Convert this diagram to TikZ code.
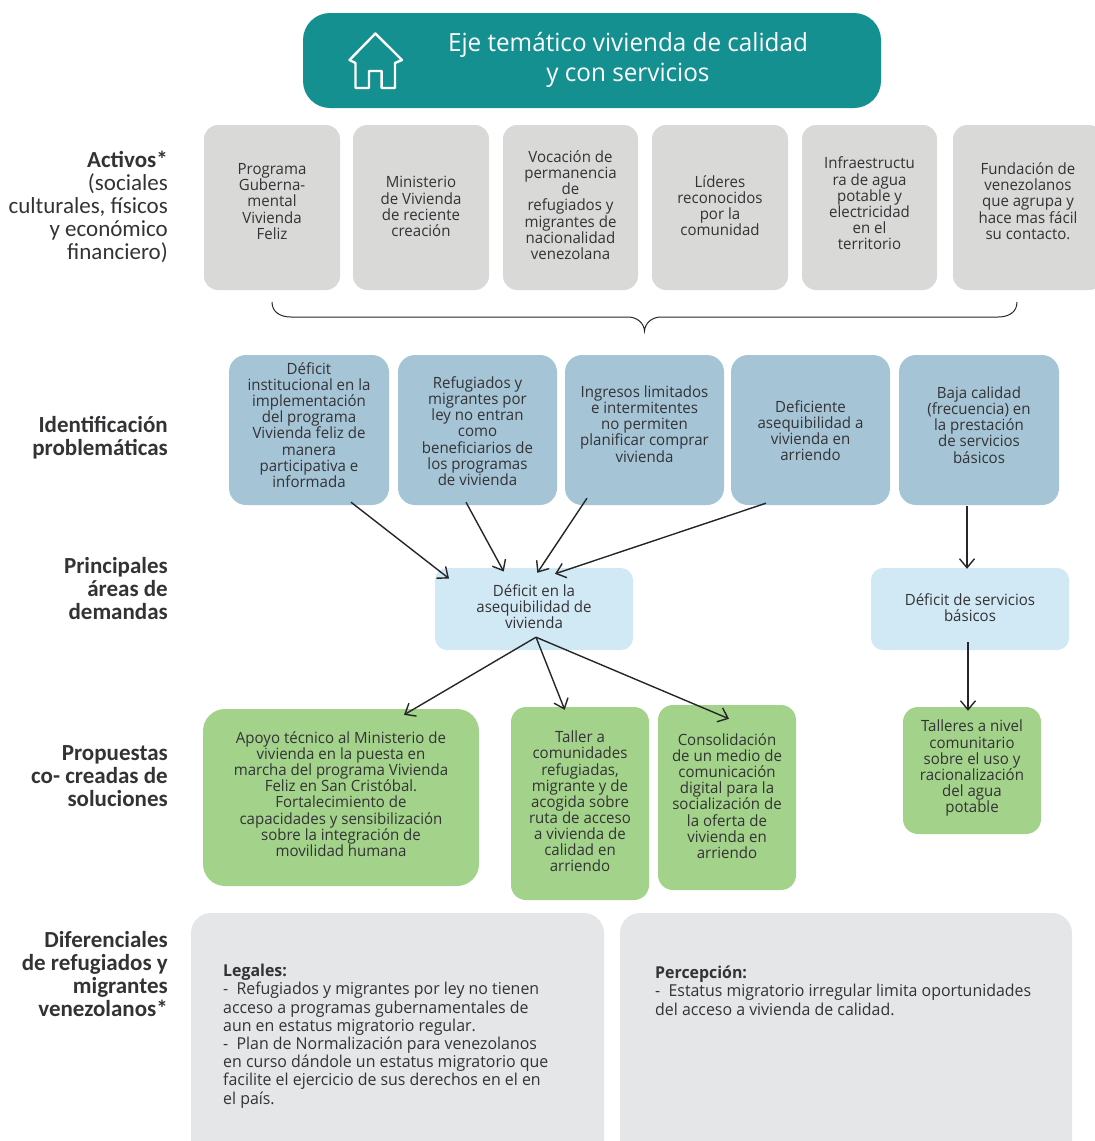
\documentclass[tikz,border=0pt]{standalone}
\usepackage{fontspec}
\setmainfont{Open Sans}
\newfontfamily\bodyf[FakeStretch=0.97]{Open Sans}
\newfontfamily\sidef{Carlito}
\usetikzlibrary{arrows.meta,calc}
\definecolor{teal}{HTML}{159090}
\definecolor{actg}{HTML}{D9D9D8}
\definecolor{prob}{HTML}{A5C4D6}
\definecolor{dem}{HTML}{D1E8F5}
\definecolor{grn}{HTML}{A3D28B}
\definecolor{dif}{HTML}{E5E6E8}
\definecolor{ink}{HTML}{333335}
\tikzset{
  x=1pt,y=-1pt,
  boxbase/.style={inner sep=0pt,align=center,text=ink,font=\bodyf\fontsize{15.5}{16.15}\selectfont},
  activo/.style={boxbase,fill=actg,rounded corners=14pt},
  problema/.style={boxbase,fill=prob,rounded corners=17pt},
  demanda/.style={boxbase,fill=dem,rounded corners=12pt},
  propuesta/.style={boxbase,fill=grn,rounded corners=15pt},
  diferencial/.style={fill=dif,rounded corners=20pt,inner sep=0pt},
  sidelabel/.style={anchor=east,align=right,inner sep=0pt,text=ink,font=\sidef\fontsize{23}{23}\selectfont},
  sidebold/.style={sidelabel,font=\sidef\bfseries\fontsize{23}{23}\selectfont},
  detail/.style={anchor=north west,align=left,inner sep=0pt,text=ink,font=\bodyf\fontsize{16.4}{18.2}\selectfont},
  arr/.style={draw=black!85,line width=1.4pt,-{Straight Barb[length=9pt,width=15pt,line width=1.4pt]}},
}
% name, style, x1, y1, x2, y2, text-lift, text
\newcommand{\bx}[8]{\node[#2,minimum width={(#5-(#3))*1pt},minimum height={(#6-(#4))*1pt}] (#1) at ({(#3+#5)/2},{(#4+#6)/2}) {#8\\[#7pt]};}
\begin{document}
\begin{tikzpicture}
\useasboundingbox (0,0) rectangle (1095,1141);
\clip (0,0) rectangle (1095,1141);
% title
\node[fill=teal,rounded corners=27pt,minimum width=578pt,minimum height=95pt,inner sep=0pt] (title) at (592,60.5) {};
\node[inner sep=0pt,align=center,text=white,font=\bodyf\fontsize{25}{30}\selectfont] (titletext) at (628,60) {Eje temático vivienda de calidad\\y con servicios};
\draw[white,line width=2.4pt,line join=round] (355.5,63)--(349.5,60)--(375.4,33.5)--(402,60)--(395,63)--(395,88)--(381.6,88)--(381.6,71)--(369,71)--(369,88)--(355.5,88)--cycle;
% activos
\bx{a1}{activo}{204}{125}{340}{290}{-4}{Programa\\Guberna-\\mental\\Vivienda\\Feliz}
\bx{a2}{activo}{353}{125}{489}{290}{-14}{Ministerio\\de Vivienda\\de reciente\\creación}
\bx{a3}{activo}{503}{125}{638}{290}{-11}{Vocación de\\permanencia\\de\\refugiados y\\migrantes de\\nacionalidad\\venezolana}
\bx{a4}{activo}{652}{125}{788}{290}{-12}{Líderes\\reconocidos\\por la\\comunidad}
\bx{a5}{activo}{802}{125}{937}{290}{-8}{Infraestructu\\ra de agua\\potable y\\electricidad\\en el\\territorio}
\bx{a6}{activo}{953}{125}{1103}{290}{-3}{Fundación de\\venezolanos\\que agrupa y\\hace mas fácil\\su contacto.}
% brace
\draw[black!85,line width=1pt] (272,302) .. controls (272,312) and (280,317) .. (291,317) -- (628,317) .. controls (637,317) and (644,323) .. (644.5,331) .. controls (645,323) and (652,317) .. (661,317) -- (998,317) .. controls (1009,317) and (1017,312) .. (1017,302);
% problemas
\bx{p1}{problema}{229}{355}{389}{505}{-6}{Déficit\\institucional en la\\implementación\\del programa\\Vivienda feliz de\\manera\\participativa e\\informada}
\bx{p2}{problema}{398}{355}{557}{505}{-18}{Refugiados y\\migrantes por\\ley no entran\\como\\beneficiarios de\\los programas\\de vivienda}
\bx{p3}{problema}{565}{355}{724}{505}{-4}{Ingresos limitados\\e intermitentes\\no permiten\\planificar comprar\\vivienda}
\bx{p4}{problema}{731}{355}{890}{505}{-17}{Deficiente\\asequibilidad a\\vivienda en\\arriendo}
\bx{p5}{problema}{899}{355}{1059}{505}{-6}{Baja calidad\\(frecuencia) en\\la prestación\\de servicios\\básicos}
% demandas
\bx{d1}{demanda}{435}{568}{633}{650}{-11}{Déficit en la\\asequibilidad de\\vivienda}
\bx{d2}{demanda}{871}{568}{1069}{650}{-13}{Déficit de servicios\\básicos}
% propuestas
\bx{s1}{propuesta,rounded corners=22pt}{203}{709}{479}{886}{-9}{Apoyo técnico al Ministerio de\\vivienda en la puesta en\\marcha del programa Vivienda\\Feliz en San Cristóbal.\\Fortalecimiento de\\capacidades y sensibilización\\sobre la integración de\\movilidad humana}
\bx{s2}{propuesta}{511}{707}{649}{900}{-12}{Taller a\\comunidades\\refugiadas,\\migrante y de\\acogida sobre\\ruta de acceso\\a vivienda de\\calidad en\\arriendo}
\bx{s3}{propuesta}{658}{705}{796}{890}{-13}{Consolidación\\de un medio de\\comunicación\\digital para la\\socialización de\\la oferta de\\vivienda en\\arriendo}
\bx{s4}{propuesta}{903}{707}{1041}{834}{-8}{Talleres a nivel\\comunitario\\sobre el uso y\\racionalización\\del agua\\potable}
% diferenciales
\node[diferencial,minimum width=413pt,minimum height=260pt] (g1) at (397.5,1043) {};
\node[diferencial,minimum width=452pt,minimum height=260pt] (g2) at (846,1043) {};
\node[detail] (g1t) at (223,964) {\textbf{Legales:}\\-\ \ Refugiados y migrantes por ley no tienen\\acceso a programas gubernamentales de\\aun en estatus migratorio regular.\\-\ \ Plan de Normalización para venezolanos\\en curso dándole un estatus migratorio que\\facilite el ejercicio de sus derechos en el en\\el país.};
\node[detail] (g2t) at (655,966) {\textbf{Percepción:}\\-\ \ Estatus migratorio irregular limita oportunidades\\del acceso a vivienda de calidad.};
% side labels
\node[sidelabel] (l1) at (168,207) {\textbf{Activos*}\\(sociales\\culturales, físicos\\y económico\\financiero)};
\node[sidebold] (l2) at (168,437.5) {Identificación\\problemáticas};
\node[sidebold] (l3) at (168,589) {Principales\\áreas de\\demandas};
\node[sidebold] (l4) at (168,776) {Propuestas\\co- creadas de\\soluciones};
\node[sidebold] (l5) at (168,974.5) {Diferenciales\\de refugiados y\\migrantes\\venezolanos*};
% connectors
\draw[arr] ([xshift=42pt,yshift=3pt]p1.south) -- ([xshift=-85pt,yshift=-10.7pt]d1.north);
\draw[arr] ([xshift=-11.5pt,yshift=3pt]p2.south) -- ([xshift=-30.3pt,yshift=-3.7pt]d1.north);
\draw[arr] ([xshift=-57.5pt,yshift=7pt]p3.south) -- ([xshift=3.3pt,yshift=-5pt]d1.north);
\draw[arr] ([xshift=-44.5pt,yshift=2pt]p4.south) -- ([xshift=21pt,yshift=-6pt]d1.north);
\draw[arr] ([xshift=-12pt,yshift=-1pt]p5.south) -- ([xshift=-3pt,yshift=-1pt]d2.north);
\draw[arr] ([xshift=2pt,yshift=13pt]d1.south) -- ([xshift=63pt,yshift=-6pt]s1.north);
\draw[arr] ([xshift=2pt,yshift=13pt]d1.south) -- ([xshift=-15.3pt,yshift=-3pt]s2.north);
\draw[arr] ([xshift=2pt,yshift=13pt]d1.south) -- ([xshift=2pt,yshift=-14pt]s3.north);
\draw[arr] ([xshift=-2pt,yshift=8pt]d2.south) -- ([xshift=-4pt,yshift=-4pt]s4.north);
\end{tikzpicture}
\end{document}
